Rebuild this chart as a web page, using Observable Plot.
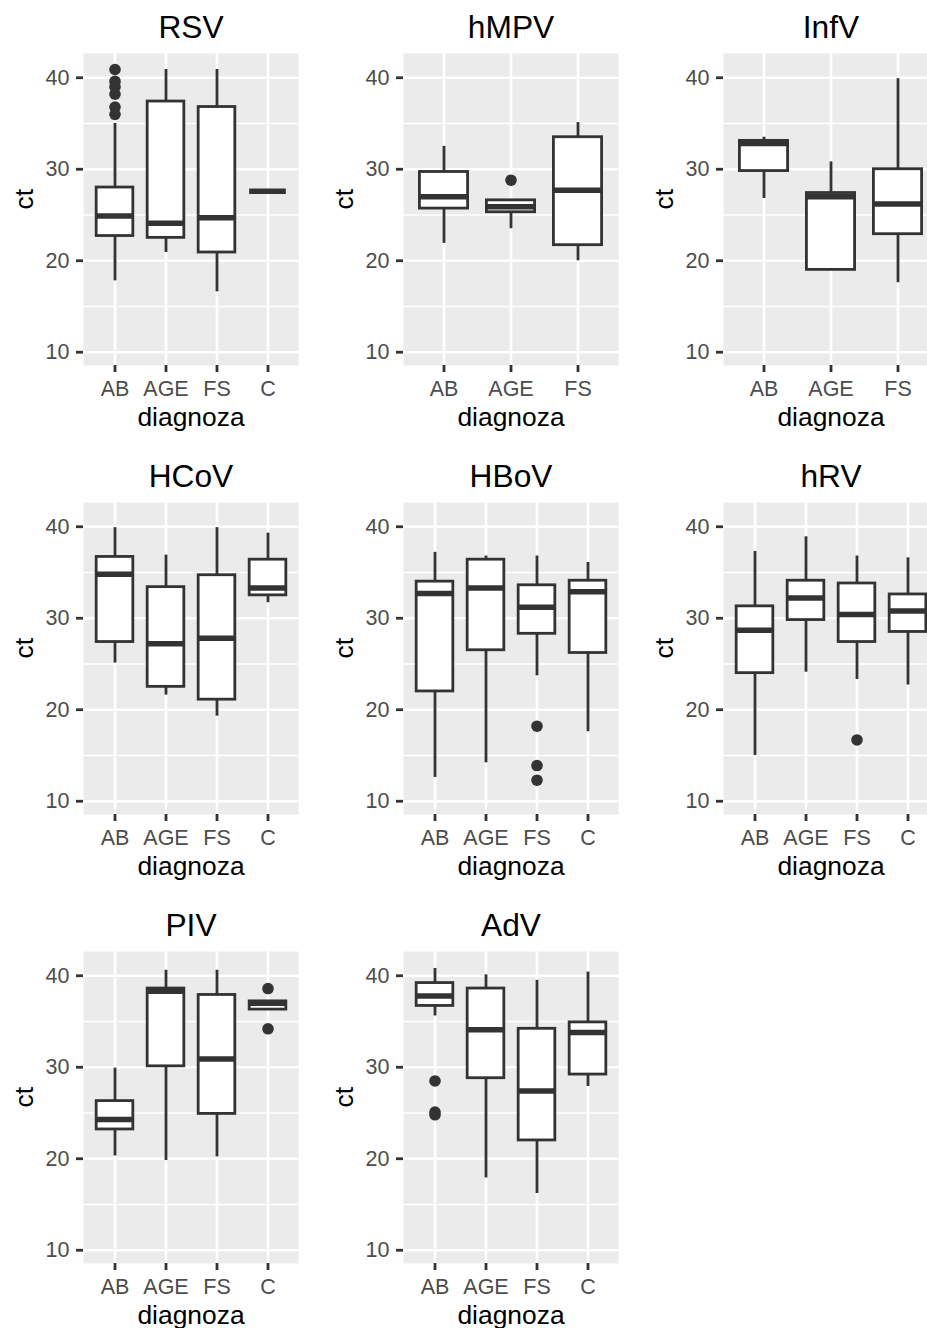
<!DOCTYPE html>
<html>
<head>
<meta charset="utf-8">
<script src="https://cdn.jsdelivr.net/npm/d3@7"></script>
<script src="https://cdn.jsdelivr.net/npm/@observablehq/plot@0.6"></script>
<style>
  html, body { margin: 0; padding: 0; background: #fff; overflow: hidden; }
  #grid { position: relative; width: 927px; height: 1328px; overflow: hidden; }
  .cell { position: absolute; width: 320px; }
</style>
</head>
<body>
<div id="grid"></div>
<script>
// Virus panels, in reading order (3 per row)
const viruses = ["RSV", "hMPV", "InfV", "HCoV", "HBoV", "hRV", "PIV", "AdV"];
const diagnoses = ["AB", "AGE", "FS", "C"];

// Box summaries per diagnosis: [lower whisker, Q1, median, Q3, upper whisker]
const rsvStats  = [[17.8, 22.7, 24.9, 28.0, 35.0], [20.9, 22.5, 24.1, 37.4, 40.9], [16.6, 20.9, 24.7, 36.8, 40.9], [27.6, 27.6, 27.6, 27.6, 27.6]];
const hmpvStats = [[21.9, 25.7, 27.0, 29.7, 32.5], [23.5, 25.3, 25.9, 26.6, 26.6], [20.0, 21.7, 27.7, 33.5, 35.1]];
const infvStats = [[26.8, 29.8, 32.8, 33.1, 33.5], [19.0, 19.0, 27.0, 27.4, 30.8], [17.6, 22.9, 26.2, 30.0, 39.9]];
const hcovStats = [[25.1, 27.4, 34.8, 36.7, 39.9], [21.6, 22.5, 27.2, 33.4, 36.9], [19.3, 21.1, 27.8, 34.7, 39.9], [31.7, 32.5, 33.3, 36.4, 39.3]];
const hbovStats = [[12.6, 22.0, 32.7, 34.0, 37.2], [14.2, 26.5, 33.3, 36.4, 36.8], [23.7, 28.3, 31.2, 33.6, 36.8], [17.6, 26.2, 32.9, 34.1, 36.1]];
const hrvStats  = [[15.0, 24.0, 28.7, 31.3, 37.3], [24.1, 29.8, 32.2, 34.1, 38.9], [23.3, 27.4, 30.4, 33.8, 36.8], [22.7, 28.5, 30.8, 32.6, 36.6]];
const pivStats  = [[20.3, 23.2, 24.3, 26.3, 29.9], [19.8, 30.1, 38.3, 38.6, 40.6], [20.2, 24.9, 30.9, 37.9, 40.6], [36.3, 36.3, 37.0, 37.2, 37.2]];
const advStats  = [[35.6, 36.7, 37.8, 39.2, 40.8], [17.9, 28.8, 34.1, 38.6, 40.1], [16.2, 22.0, 27.4, 34.2, 39.5], [27.9, 29.2, 33.8, 34.9, 40.4]];

// Outlying ct values: [diagnosis, ct]
const rsvOutliers  = [["AB", 40.9], ["AB", 39.6], ["AB", 39.0], ["AB", 38.2], ["AB", 36.8], ["AB", 36.0]];
const hmpvOutliers = [["AGE", 28.8]];
const infvOutliers = [];
const hcovOutliers = [];
const hbovOutliers = [["FS", 18.2], ["FS", 13.9], ["FS", 12.3]];
const hrvOutliers  = [["FS", 16.7]];
const pivOutliers  = [["C", 38.6], ["C", 34.2]];
const advOutliers  = [["AB", 28.5], ["AB", 25.1], ["AB", 24.8]];

const yTicks = [10, 20, 30, 40];
const yMinor = [15, 25, 35];
const yDomain = [8.55, 42.65];

const allStats = [rsvStats, hmpvStats, infvStats, hcovStats, hbovStats, hrvStats, pivStats, advStats];
const allOutliers = [rsvOutliers, hmpvOutliers, infvOutliers, hcovOutliers, hbovOutliers, hrvOutliers, pivOutliers, advOutliers];

// Panel geometry
const W = 320, H = 449, ML = 83, MR = 22, MT = 53, MB = 84;
const frameW = W - ML - MR;
const ink = "#333333";
const lw = 2.8;

function panel(name, stats, outliers) {
  const cats = diagnoses.slice(0, stats.length);
  const rows = stats.map((s, i) => ({diagnoza: cats[i], lo: s[0], q1: s[1], med: s[2], q3: s[3], hi: s[4]}));
  const pts = outliers.map(([d, v]) => ({diagnoza: d, ct: v}));
  const step = frameW / (cats.length + 0.2);
  const inset = step * 0.14;
  return Plot.plot({
    width: W, height: H,
    marginLeft: ML, marginRight: MR, marginTop: MT, marginBottom: MB,
    style: {fontFamily: "'Liberation Sans', Arial, sans-serif", fontSize: "21px", background: "transparent", overflow: "visible", maxWidth: "none"},
    x: {type: "band", domain: cats, paddingInner: 0, paddingOuter: 0.1, align: 0.5},
    y: {domain: yDomain},
    marks: [
      Plot.frame({fill: "#EBEBEB", stroke: "none"}),
      Plot.gridY(yMinor, {stroke: "#fff", strokeOpacity: 1, strokeWidth: 1.3}),
      Plot.gridY(yTicks, {stroke: "#fff", strokeOpacity: 1, strokeWidth: 2.6}),
      Plot.gridX(cats, {stroke: "#fff", strokeOpacity: 1, strokeWidth: 2.6}),
      Plot.axisY(yTicks, {tickSize: 7, tickPadding: 7, stroke: ink, strokeWidth: lw, fill: "#4D4D4D", fontSize: 21.5, label: null}),
      Plot.axisX(cats, {tickSize: 7, tickPadding: 8, stroke: ink, strokeWidth: lw, fill: "#4D4D4D", fontSize: 21.5, label: null}),
      // outliers
      Plot.dot(pts, {x: "diagnoza", y: "ct", r: 5.8, fill: ink, stroke: "none"}),
      // whiskers
      Plot.ruleX(rows, {x: "diagnoza", y1: "lo", y2: "q1", stroke: ink, strokeWidth: lw}),
      Plot.ruleX(rows, {x: "diagnoza", y1: "q3", y2: "hi", stroke: ink, strokeWidth: lw}),
      // boxes and medians
      Plot.barY(rows, {x: "diagnoza", y1: "q1", y2: "q3", fill: "white", stroke: ink, strokeWidth: lw, insetLeft: inset, insetRight: inset}),
      Plot.tickY(rows, {x: "diagnoza", y: "med", stroke: ink, strokeWidth: 5.5, insetLeft: inset, insetRight: inset}),
      // panel title and axis titles
      Plot.text([name], {text: d => d, frameAnchor: "top", lineAnchor: "bottom", dy: -16, fontSize: 31.7, fill: "black"}),
      Plot.text(["diagnoza"], {text: d => d, frameAnchor: "bottom", lineAnchor: "bottom", dy: 60, fontSize: 26.4, fill: "black"}),
      Plot.text(["ct"], {text: d => d, frameAnchor: "left", lineAnchor: "bottom", rotate: -90, dx: -51, fontSize: 26.4, fill: "black"})
    ]
  });
}

const grid = document.getElementById("grid");
viruses.forEach((v, i) => {
  const cell = document.createElement("div");
  cell.className = "cell";
  cell.style.left = `${(i % 3) * 320}px`;
  cell.style.top = `${Math.floor(i / 3) * 449}px`;
  cell.appendChild(panel(v, allStats[i], allOutliers[i]));
  grid.appendChild(cell);
});
</script>
</body>
</html>
